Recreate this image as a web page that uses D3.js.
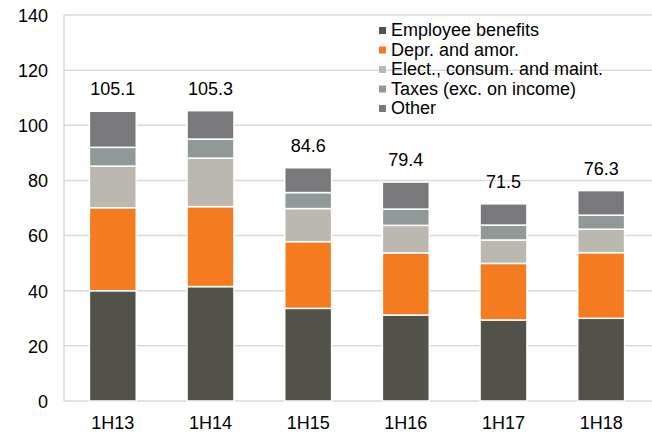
<!DOCTYPE html>
<html>
<head>
<meta charset="utf-8">
<script src="https://cdn.jsdelivr.net/npm/d3@7"></script>
<style>
  body { margin: 0; background: #fff; }
  text { font-family: "Liberation Sans", Arial, sans-serif; fill: #000; }
</style>
</head>
<body>
<div id="chart"></div>
<script>
// Chart data (R$ billion)
var periods = ["1H13", "1H14", "1H15", "1H16", "1H17", "1H18"];
var seriesNames = ["Employee benefits", "Depr. and amor.", "Elect., consum. and maint.", "Taxes (exc. on income)", "Other"];
var employee = [40.0, 41.5, 33.6, 31.2, 29.4, 30.0];
var depr     = [30.1, 29.0, 24.2, 22.5, 20.5, 23.8];
var elect    = [15.1, 17.6, 12.0, 10.0,  8.5,  8.5];
var taxes    = [ 6.8,  6.9,  5.8,  5.9,  5.4,  5.1];
var other    = [13.1, 10.3,  9.0,  9.8,  7.7,  8.9];
var totals   = ["105.1", "105.3", "84.6", "79.4", "71.5", "76.3"];
var yTicks   = [0, 20, 40, 60, 80, 100, 120, 140];

var colors = ["#535249", "#f47b20", "#bbb8b0", "#8e9998", "#79787a"];

var width = 652, height = 435;
// plot edges (don't use "top" - it clashes with window.top)
var plotLeft = 64, plotRight = 650, plotTop = 15, plotBottom = 401;

var svg = d3.select("#chart")
    .append("svg")
    .attr("width", width)
    .attr("height", height);

// cut-off title at the very top, only the descenders show
svg.append("text")
    .attr("x", -2)
    .attr("y", -3)
    .style("fill", "#f47b20")
    .style("font-size", "17px")
    .text("Figure 7: Operating expenses (R$ billion, by group)");

var x = d3.scaleBand()
    .domain(periods)
    .range([plotLeft, plotRight])
    .paddingInner(0.52)
    .paddingOuter(0.26);

var y = d3.scaleLinear()
    .domain([0, 140])
    .range([plotBottom, plotTop]);

// gridlines
svg.selectAll(".grid")
    .data(yTicks)
    .enter().append("line")
    .attr("class", "grid")
    .attr("x1", plotLeft)
    .attr("x2", width + 5)
    .attr("y1", function (d) { return y(d); })
    .attr("y2", function (d) { return y(d); })
    .style("stroke", "#d9d9d9")
    .style("stroke-width", 1.5);

// left border of plot
svg.append("line")
    .attr("x1", plotLeft).attr("x2", plotLeft)
    .attr("y1", y(140)).attr("y2", y(0))
    .style("stroke", "#d9d9d9")
    .style("stroke-width", 1.5);

// y axis labels
var yAxis = svg.append("g")
    .attr("transform", "translate(" + (plotLeft - 16) + ",0)")
    .call(d3.axisLeft(y).tickValues(yTicks).tickSize(0).tickPadding(0));
yAxis.select(".domain").remove();
yAxis.selectAll("text")
    .style("font-size", "18px")
    .style("font-family", "'Liberation Sans', Arial, sans-serif")
    .attr("fill", "#000")
    .attr("dy", "0.35em");

// x axis labels
var xAxis = svg.append("g")
    .attr("transform", "translate(0," + plotBottom + ")")
    .call(d3.axisBottom(x).tickSize(0).tickPadding(15));
xAxis.select(".domain").remove();
xAxis.selectAll("text")
    .style("font-size", "18px")
    .style("font-family", "'Liberation Sans', Arial, sans-serif")
    .attr("fill", "#000");

// stack the series
var rows = periods.map(function (p, i) {
    return { period: p, s0: employee[i], s1: depr[i], s2: elect[i], s3: taxes[i], s4: other[i] };
});
var stack = d3.stack().keys(["s0", "s1", "s2", "s3", "s4"]);
var layers = stack(rows);

svg.selectAll(".layer")
    .data(layers)
    .enter().append("g")
    .attr("class", "layer")
    .style("fill", function (d, i) { return colors[i]; })
    .selectAll("rect")
    .data(function (d) { return d; })
    .enter().append("rect")
    .attr("x", function (d) { return x(d.data.period); })
    .attr("width", x.bandwidth())
    .attr("y", function (d) { return y(d[1]); })
    .attr("height", function (d) { return y(d[0]) - y(d[1]); })
    .style("stroke", "#fff")
    .style("stroke-width", 1.5);

// total labels
svg.selectAll(".total")
    .data(rows)
    .enter().append("text")
    .attr("class", "total")
    .attr("x", function (d) { return x(d.period) + x.bandwidth() / 2; })
    .attr("y", function (d) { return y(d.s0 + d.s1 + d.s2 + d.s3 + d.s4) - 16; })
    .attr("text-anchor", "middle")
    .style("font-size", "18px")
    .text(function (d, i) { return totals[i]; });

// legend
var legend = svg.selectAll(".legend")
    .data(seriesNames)
    .enter().append("g")
    .attr("class", "legend")
    .attr("transform", function (d, i) { return "translate(379," + (30 + i * 19.5) + ")"; });

legend.append("rect")
    .attr("x", 0)
    .attr("y", -3)
    .attr("width", 7)
    .attr("height", 7)
    .style("fill", function (d, i) { return colors[i]; });

legend.append("text")
    .attr("x", 12)
    .attr("y", 0)
    .attr("dy", "0.36em")
    .style("font-size", "18px")
    .text(function (d) { return d; });
</script>
</body>
</html>
